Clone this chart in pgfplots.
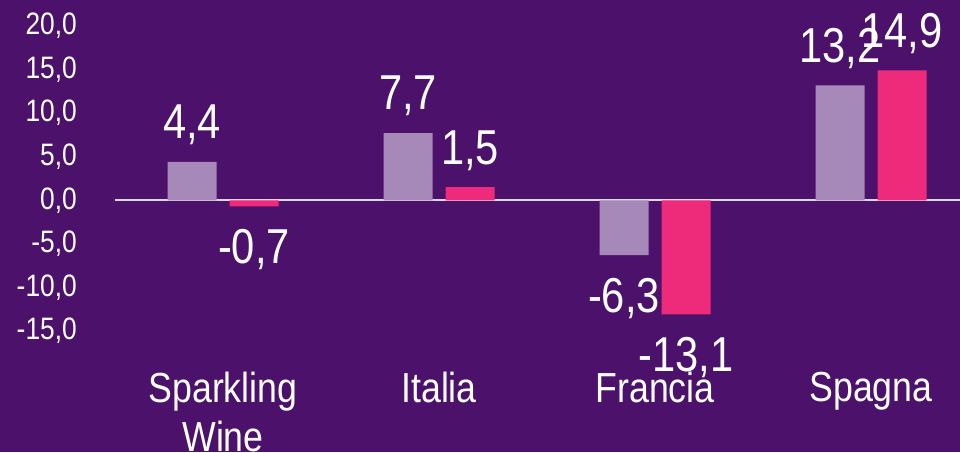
\documentclass[border=0pt]{standalone}
\usepackage{fontspec}
\setmainfont{Liberation Sans}[FakeStretch=0.85]
\usepackage{pgfplots}
\pgfplotsset{compat=1.18}
\definecolor{bg}{HTML}{4B116B}
\definecolor{lilac}{HTML}{A688B9}
\definecolor{hotpink}{HTML}{EE2A7B}
\definecolor{zeroline}{HTML}{D9D9D9}

\begin{document}
\begin{tikzpicture}[x=1pt,y=1pt]
\path[use as bounding box, fill=bg] (0,0) rectangle (960,452);
\clip (0,0) rectangle (960,452);
\begin{axis}[
    at={(115pt,121pt)}, anchor=south west,
    scale only axis,
    width=845pt, height=305pt,
    ybar=13pt, bar width=49pt,
    xmin=-0.5, xmax=3.412,
    ymin=-15, ymax=20,
    xtick={0,1,2,3},
    xticklabels={{Sparkling\\Wine},Italia,Francia,Spagna},
    ytick={-15,-10,...,20},
    axis line style={draw=none},
    tick style={draw=none},
    major tick length=0pt,
    clip=false,
    /pgf/number format/fixed,
    /pgf/number format/fixed zerofill,
    /pgf/number format/precision=1,
    /pgf/number format/use comma,
    /pgf/number format/assume math mode=true,
    yticklabel style={font=\fontsize{31}{31}\selectfont, text=white, inner sep=0pt, anchor=east, xshift=-38pt},
    xticklabel style={font=\fontsize{42}{49}\selectfont, text=white, inner sep=0pt, anchor=north, align=center, yshift=-41pt},
    extra y ticks={0},
    extra y tick labels={},
    extra y tick style={grid=major, major grid style={draw=zeroline, line width=2pt}},
    nodes near coords,
    nodes near coords align={vertical},
    every node near coord/.append style={font=\fontsize{49}{49}\selectfont, text=white, inner sep=0pt, inner ysep=23pt, text depth=0pt},
]

% lilac series
\addplot[fill=lilac, draw=none] coordinates {
    (0,4.4) (1,7.7) (2,-6.3) (3,13.2)
};

% pink series
\addplot[fill=hotpink, draw=none] coordinates {
    (0,-0.7) (1,1.5) (2,-13.1) (3,14.9)
};

\end{axis}
\end{tikzpicture}
\end{document}
